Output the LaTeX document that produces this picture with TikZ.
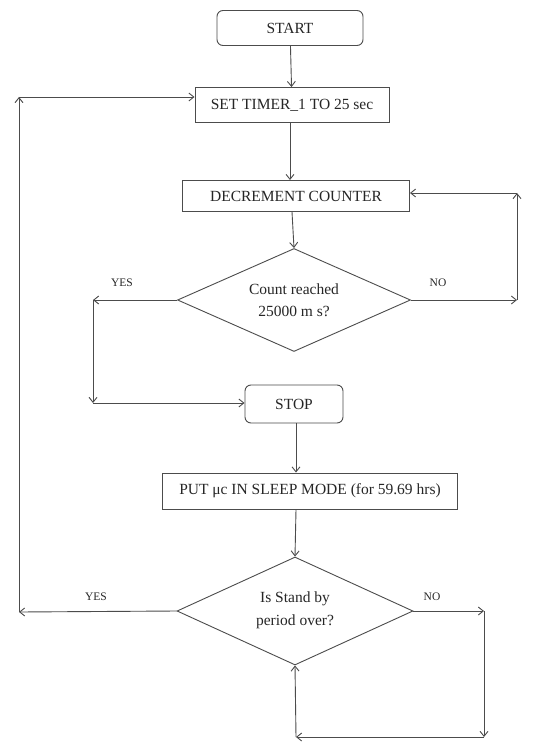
\documentclass[tikz,border=0pt]{standalone}
\usepackage{fontspec}
\setmainfont{Liberation Serif}
\usetikzlibrary{shapes.geometric,arrows.meta}
\begin{document}
\begin{tikzpicture}[x=1pt,y=-1pt,
  every node/.style={font=\fontsize{15.5}{17}\selectfont, text=black!85},
  ln/.style={draw=black!70, line width=0.9pt},
  arr/.style={ln, -{Straight Barb[length=5pt,width=8pt,line width=0.9pt]}},
  box/.style={ln, rectangle, inner sep=0pt},
  rbox/.style={ln, rectangle, rounded corners=6pt, inner sep=0pt},
  dec/.style={ln, diamond, inner sep=0pt},
  lbl/.style={font=\fontsize{11.5}{13}\selectfont}]
\useasboundingbox (0,0) rectangle (545,743);
\fill[white] (0,0) rectangle (545,743);

\node[rbox, minimum width=146pt, minimum height=35pt] (start) at (290,28) {START};
\node[box, minimum width=194pt, minimum height=35pt] (timer) at (292,105) {SET TIMER\_1 TO 25 sec};
\node[box, minimum width=227pt, minimum height=31pt] (decr) at (296,196) {DECREMENT COUNTER};
\node[dec, minimum width=233pt, minimum height=103pt, aspect=2.26] (d1) at (294,300) {};
\node at (294,289) {Count reached};
\node at (294,311) {25000 m s?};
\node[rbox, minimum width=98pt, minimum height=38pt] (stop) at (294,404) {STOP};
\node[box, minimum width=295pt, minimum height=36pt] (put) at (310,491) {PUT μc IN SLEEP MODE (for 59.69 hrs)};
\node[dec, minimum width=236pt, minimum height=108pt, aspect=2.18] (d2) at (295,611) {};
\node at (295,599) {Is Stand by};
\node at (295,622) {period over?};

\node[lbl] (y1) at (122,283) {YES};
\node[lbl] (n1) at (438,283) {NO};
\node[lbl] (y2) at (96,597) {YES};
\node[lbl] (n2) at (432,597) {NO};

\coordinate (a1) at (93,300);
\coordinate (a2) at (93,403);
\coordinate (b1) at (517,300);
\coordinate (b2) at (517,193);
\coordinate (c1) at (19,612);
\coordinate (c2) at (19,97);
\coordinate (e1) at (484,611);
\coordinate (e2) at (484,737);
\coordinate (e3) at (296,737);

\draw[arr] (start) -- (timer);
\draw[arr] (timer.south -| 290,0) -- (decr.north -| 290,0);
\draw[arr] (decr.south -| 292,0) -- (d1.north);
\draw[arr] (d1.west) -- (a1);
\draw[arr] (a1) -- (a2);
\draw[arr] (a2) -- (stop.west |- a2);
\draw[arr] (d1.east) -- (b1);
\draw[arr] (b1) -- (b2);
\draw[arr] (b2) -- (decr.east |- b2);
\draw[arr] (stop.south -| 296,0) -- (put.north -| 296,0);
\draw[arr] (put.south -| 296,0) -- (d2.north);
\draw[arr] (d2.west) -- (c1);
\draw[arr] (c1) -- (c2);
\draw[arr] (c2) -- (timer.west |- c2);
\draw[arr] (d2.east) -- (e1);
\draw[arr] (e1) -- (e2);
\draw[arr] (e2) -- (e3);
\draw[arr] (e3) -- (d2.south);
\end{tikzpicture}
\end{document}
